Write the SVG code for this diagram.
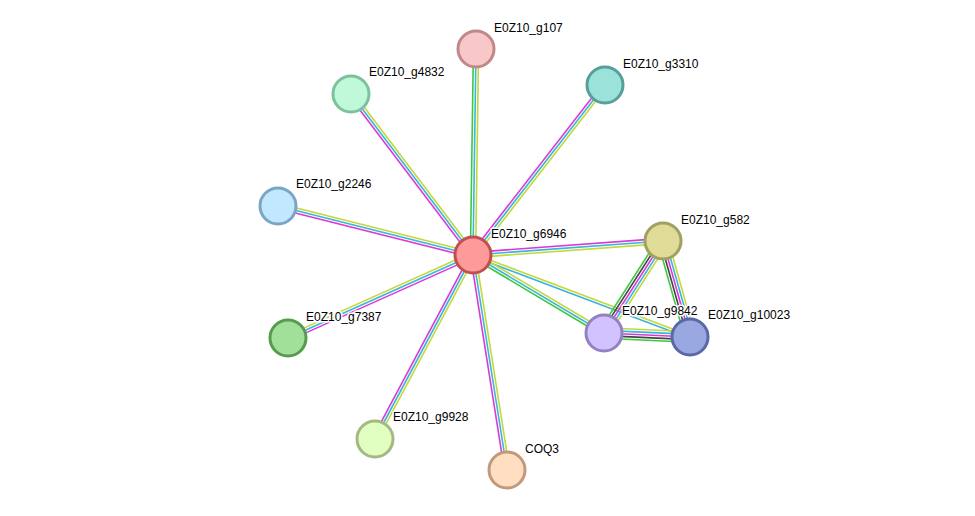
<svg xmlns="http://www.w3.org/2000/svg" width="975" height="516" viewBox="0 0 975 516">
<style>
line{stroke-width:1.6;fill:none}
.g{stroke:#3ec83e}.c{stroke:#3ab6dc}.m{stroke:#d83ad8}.y{stroke:#c4d83c}.k{stroke:#444}
circle{stroke-width:3}
text{font-family:"Liberation Sans",Arial,sans-serif;font-size:12px;fill:#000;stroke:#fff;stroke-width:3;stroke-linejoin:round;paint-order:stroke}
</style>
<rect width="975" height="516" fill="#fff"/>
<g id="edges">
<line class="g" x1="470.4" y1="255" x2="473.4" y2="49"/>
<line class="c" x1="473" y1="255" x2="476" y2="49"/>
<line class="y" x1="475.6" y1="255" x2="478.6" y2="49"/>

<line class="m" x1="470.95" y1="253.41" x2="602.95" y2="83.41"/>
<line class="c" x1="473" y1="255" x2="605" y2="85"/>
<line class="y" x1="475.05" y1="256.59" x2="607.05" y2="86.59"/>

<line class="y" x1="475.07" y1="253.43" x2="353.07" y2="92.43"/>
<line class="c" x1="473" y1="255" x2="351" y2="94"/>
<line class="m" x1="470.93" y1="256.57" x2="348.93" y2="95.57"/>

<line class="y" x1="473.63" y1="252.48" x2="278.63" y2="203.48"/>
<line class="c" x1="473" y1="255" x2="278" y2="206"/>
<line class="m" x1="472.37" y1="257.52" x2="277.37" y2="208.52"/>

<line class="y" x1="471.94" y1="252.63" x2="286.94" y2="335.63"/>
<line class="c" x1="473" y1="255" x2="288" y2="338"/>
<line class="m" x1="474.06" y1="257.37" x2="289.06" y2="340.37"/>

<line class="y" x1="475.29" y1="256.22" x2="377.29" y2="440.22"/>
<line class="c" x1="473" y1="255" x2="375" y2="439"/>
<line class="m" x1="470.71" y1="253.78" x2="372.71" y2="437.78"/>

<line class="y" x1="475.57" y1="254.59" x2="509.57" y2="469.59"/>
<line class="c" x1="473" y1="255" x2="507" y2="470"/>
<line class="m" x1="470.43" y1="255.41" x2="504.43" y2="470.41"/>

<line class="m" x1="472.81" y1="252.41" x2="662.81" y2="238.41"/>
<line class="c" x1="473" y1="255" x2="663" y2="241"/>
<line class="y" x1="473.19" y1="257.59" x2="663.19" y2="243.59"/>

<line class="y" x1="473.46" y1="253.78" x2="690.46" y2="335.78"/>
<line class="c" x1="472.54" y1="256.22" x2="689.54" y2="338.22"/>

<line class="y" x1="474.33" y1="252.77" x2="605.33" y2="330.77"/>
<line class="c" x1="473" y1="255" x2="604" y2="333"/>
<line class="g" x1="471.67" y1="257.23" x2="602.67" y2="335.23"/>

<line class="g" x1="658.62" y1="238.2" x2="599.62" y2="330.2"/>
<line class="k" x1="660.81" y1="239.6" x2="601.81" y2="331.6"/>
<line class="m" x1="663" y1="241" x2="604" y2="333"/>
<line class="c" x1="665.19" y1="242.4" x2="606.19" y2="334.4"/>
<line class="y" x1="667.38" y1="243.8" x2="608.38" y2="335.8"/>

<line class="g" x1="658" y1="242.4" x2="685" y2="338.4"/>
<line class="k" x1="660.5" y1="241.7" x2="687.5" y2="337.7"/>
<line class="m" x1="663" y1="241" x2="690" y2="337"/>
<line class="c" x1="665.5" y1="240.3" x2="692.5" y2="336.3"/>
<line class="y" x1="668" y1="239.6" x2="695" y2="335.6"/>

<line class="y" x1="604.24" y1="327.8" x2="690.24" y2="331.8"/>
<line class="c" x1="604.12" y1="330.4" x2="690.12" y2="334.4"/>
<line class="m" x1="604" y1="333" x2="690" y2="337"/>
<line class="k" x1="603.88" y1="335.6" x2="689.88" y2="339.6"/>
<line class="g" x1="603.76" y1="338.2" x2="689.76" y2="342.2"/>
</g>
<g id="g107"><circle cx="476" cy="49" r="18" fill="#f8c8c8" stroke="#c08888"/><text x="494" y="32">E0Z10_g107</text></g>
<g id="g4832"><circle cx="351" cy="94" r="18" fill="#c0f8da" stroke="#7cc29c"/><text x="369" y="76">E0Z10_g4832</text></g>
<g id="g3310"><circle cx="605" cy="85" r="18" fill="#9ae2da" stroke="#5a9e98"/><text x="623" y="68">E0Z10_g3310</text></g>
<g id="g2246"><circle cx="278" cy="206" r="18" fill="#c2e8ff" stroke="#7aa6c4"/><text x="296" y="188">E0Z10_g2246</text></g>
<g id="g582"><circle cx="663" cy="241" r="18" fill="#e0dc98" stroke="#a0a060"/><text x="681" y="224">E0Z10_g582</text></g>
<g id="g7387"><circle cx="288" cy="338" r="18" fill="#a0e098" stroke="#5a9a50"/><text x="306" y="321">E0Z10_g7387</text></g>
<g id="g9842"><circle cx="604" cy="333" r="18" fill="#d2c2ff" stroke="#9282c2"/><text x="622" y="315">E0Z10_g9842</text></g>
<g id="g10023"><circle cx="690" cy="337" r="18" fill="#9aa8e2" stroke="#5a68a8"/><text x="708" y="319">E0Z10_g10023</text></g>
<g id="g9928"><circle cx="375" cy="439" r="18" fill="#e2ffc2" stroke="#a2ba82"/><text x="393" y="421">E0Z10_g9928</text></g>
<g id="COQ3"><circle cx="507" cy="470" r="18" fill="#ffdec2" stroke="#c09a7a"/><text x="525" y="453">COQ3</text></g>
<g id="g6946"><circle cx="473" cy="255" r="18" fill="#ff9a9a" stroke="#c05050"/><text x="491" y="238">E0Z10_g6946</text></g>
</svg>
